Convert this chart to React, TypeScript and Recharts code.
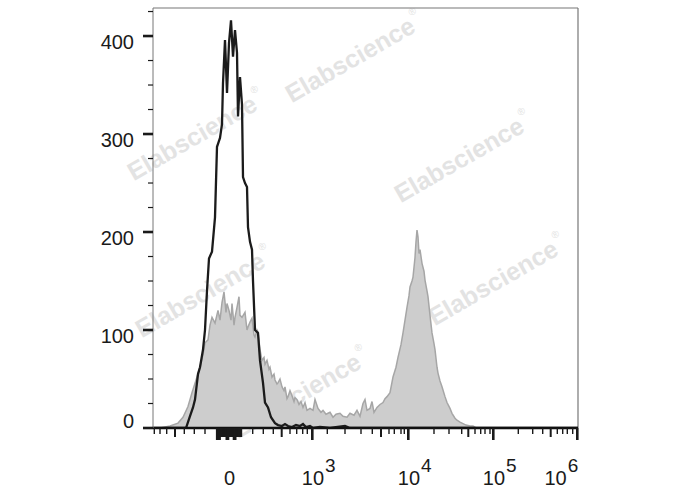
import { ComposedChart, Area, Line, XAxis, YAxis, ReferenceLine } from 'recharts';

const FONT = '"Liberation Sans", Arial, Helvetica, sans-serif';

// Display channel (0–425 across the plot width) vs. event count
// Unstained / isotype control (black outline)
const controlChannel = [
  0, 27, 33, 37, 40, 42, 45, 47, 50, 52, 54, 56, 59, 62, 64, 65, 67, 69, 70, 72, 74, 76, 78, 80,
  82, 84, 85, 87, 89, 90, 92, 94, 95, 97, 99, 100, 102, 105, 107, 110, 112, 115, 118, 122, 125,
  129, 132, 135, 139, 143, 147, 150, 153, 157, 160, 167, 177, 192, 197, 425,
];
const controlCount = [
  0, 0, 0, 12, 21, 29, 55, 62, 80, 100, 140, 173, 180, 215, 287, 290, 296, 310, 352, 396, 342, 393, 416, 379,
  406, 383, 318, 358, 330, 256, 250, 246, 205, 190, 182, 150, 100, 97, 69, 46, 26, 21, 11, 5, 3,
  2, 4, 2, 1, 3, 2, 4, 1, 2, 0, 1, 0, 2, 0, 0,
];

// Stained sample (grey filled)
const sampleChannel = [
  7, 17, 25, 30, 35, 39, 44, 47, 50, 52, 55, 57, 59, 62, 65, 67, 69, 71, 73, 74, 76, 78, 79, 81,
  82, 84, 86, 87, 89, 92, 94, 95, 97, 99, 101, 102, 104, 105, 107, 109, 111, 112, 114, 116, 117,
  119, 121, 122, 124, 125, 127, 129, 131, 132, 134, 135, 137, 139, 141, 142, 144, 146, 148, 150,
  152, 154, 157, 160, 162, 165, 168, 170, 173, 177, 180, 183, 187, 190, 194, 197, 201, 204, 207,
  210, 212, 214, 217, 219, 221, 224, 227, 230, 232, 234, 237, 240, 243, 245, 248, 250, 252, 254,
  256, 257, 259, 260, 262, 263, 264, 265, 266, 267, 269, 271, 272, 274, 275, 277, 279, 281, 282,
  284, 285, 287, 289, 292, 294, 297, 299, 302, 304, 307, 309, 313, 317, 320, 323, 425,
];
const sampleCount = [
  0, 2, 5, 11, 22, 36, 52, 62, 75, 87, 90, 105, 113, 107, 120, 110, 128, 139, 118, 127, 120, 110, 127, 105,
  113, 123, 134, 115, 113, 118, 100, 103, 108, 112, 95, 93, 100, 98, 80, 69, 72, 65, 69, 60, 62,
  52, 55, 49, 45, 46, 50, 42, 38, 42, 30, 32, 38, 33, 27, 31, 29, 24, 27, 21,
  26, 18, 20, 18, 29, 20, 16, 18, 14, 16, 11, 14, 15, 12, 11, 15, 13, 18, 12,
  25, 29, 18, 20, 27, 16, 21, 24, 26, 30, 32, 36, 52, 62, 72, 85, 97, 110, 123,
  135, 144, 150, 154, 174, 190, 202, 195, 178, 182, 168, 160, 151, 140, 134, 115, 97, 86, 80,
  62, 56, 48, 42, 32, 26, 20, 15, 10, 8, 6, 5, 3, 2, 2, 0, 0,
];

// y axis: majors every 100, minors every 25
const yTickValues = [0, 25, 50, 75, 100, 125, 150, 175, 200, 225, 250, 275, 300, 325, 350, 375, 400, 425];
const yLabels = [0, 100, 200, 300, 400];

// x axis (biexponential display): tick channel, kind, label
type XT = { v: number; kind: 'major' | 'mid' | 'minor'; label?: string; exp?: string };
const clusterTicks: XT[] = [];
for (let c = 64.2; c <= 89; c += 1.2) {
  const tall = Math.abs(c - 65.5) < 1.3 || Math.abs(c - 74.5) < 1.3 || Math.abs(c - 82) < 1.3;
  clusterTicks.push({ v: c, kind: tall ? 'major' : 'mid' });
}
const xTicks: XT[] = [
  { v: 1.3, kind: 'minor' }, { v: 7, kind: 'minor' }, { v: 13.7, kind: 'minor' }, { v: 22, kind: 'mid' },
  { v: 31.3, kind: 'minor' }, { v: 41.3, kind: 'minor' }, { v: 52, kind: 'minor' },
  ...clusterTicks,
  { v: 76, kind: 'mid', label: '0' },
  { v: 99.7, kind: 'minor' }, { v: 110.3, kind: 'minor' }, { v: 120.3, kind: 'minor' }, { v: 128.7, kind: 'mid' },
  { v: 137, kind: 'minor' }, { v: 143.7, kind: 'minor' }, { v: 149.7, kind: 'minor' }, { v: 154.3, kind: 'minor' },
  { v: 159.3, kind: 'major', label: '10', exp: '3' },
  { v: 174.3, kind: 'minor' }, { v: 192, kind: 'minor' }, { v: 208, kind: 'minor' }, { v: 219.3, kind: 'minor' },
  { v: 228, kind: 'mid' }, { v: 236, kind: 'minor' }, { v: 241.3, kind: 'minor' }, { v: 248, kind: 'minor' },
  { v: 251.3, kind: 'minor' },
  { v: 255.3, kind: 'major', label: '10', exp: '4' },
  { v: 281, kind: 'minor' }, { v: 296, kind: 'minor' }, { v: 308.7, kind: 'minor' }, { v: 315.3, kind: 'mid' },
  { v: 322, kind: 'minor' }, { v: 327.7, kind: 'minor' }, { v: 332, kind: 'minor' }, { v: 337, kind: 'minor' },
  { v: 340.3, kind: 'major', label: '10', exp: '5' },
  { v: 365.3, kind: 'minor' }, { v: 379.7, kind: 'minor' }, { v: 389.7, kind: 'minor' }, { v: 397.7, kind: 'mid' },
  { v: 404.3, kind: 'minor' }, { v: 409.7, kind: 'minor' }, { v: 414.3, kind: 'minor' }, { v: 419.7, kind: 'minor' },
  { v: 424.3, kind: 'major', label: '10', exp: '6' },
];

const controlData = controlChannel.map((ch, i) => ({ ch, count: controlCount[i] }));
const sampleData = sampleChannel.map((ch, i) => ({ ch, count: sampleCount[i] }));

const TICK_STYLE = {
  major: { len: 12, w: 2.6 },
  mid: { len: 9, w: 2 },
  minor: { len: 6, w: 1.4 },
};

function XTick(props: any) {
  const { x, y, payload } = props;
  const t =
    xTicks.find((d) => d.v === payload.value && d.label) || xTicks.find((d) => d.v === payload.value);
  if (!t) return null;
  const s = TICK_STYLE[t.kind];
  const isLast = t.exp === '6';
  return (
    <g>
      <line x1={x} x2={x} y1={y} y2={y + s.len} stroke="#1a1a1a" strokeWidth={s.w} />
      {t.label && !t.exp && (
        <text x={x + 0.5} y={y + 57} textAnchor="middle" fontSize={20} fill="#1a1a1a" fontFamily={FONT}>
          {t.label}
        </text>
      )}
      {t.exp && (
        <text
          x={isLast ? x + 1 : x - 10.5}
          y={y + 57}
          textAnchor={isLast ? 'end' : 'start'}
          fontSize={20}
          fill="#1a1a1a"
          fontFamily={FONT}
        >
          {t.label}
          <tspan dx={1} dy={-13} fontSize={19}>
            {t.exp}
          </tspan>
        </text>
      )}
    </g>
  );
}

function YTick(props: any) {
  const { x, y, payload } = props;
  const major = yLabels.includes(payload.value);
  return (
    <g>
      <line
        x1={x - (major ? 10 : 5)}
        x2={x}
        y1={y}
        y2={y}
        stroke="#1a1a1a"
        strokeWidth={major ? 2.6 : 1.2}
      />
      {major && (
        <text
          x={x - 19}
          y={payload.value === 0 ? y : y + 13}
          textAnchor="end"
          fontSize={20}
          fill="#1a1a1a"
          fontFamily={FONT}
        >
          {payload.value}
        </text>
      )}
    </g>
  );
}

// faint diagonal "Elabscience" watermarks
const marks = [
  [354, 57],
  [196, 135],
  [463, 157],
  [204, 292],
  [497, 280],
  [300, 393],
];

function Watermark() {
  return (
    <g pointerEvents="none">
      {marks.map(([cx, cy], i) => (
        <text
          key={i}
          x={cx}
          y={cy}
          transform={`rotate(-30 ${cx} ${cy})`}
          textAnchor="middle"
          dominantBaseline="central"
          fontSize={25}
          fontWeight="bold"
          fill="#e3e3e3"
          fontFamily={FONT}
        >
          Elabscience
          <tspan dx={2} dy={-11} fontSize={10} fontWeight="normal">
            ®
          </tspan>
        </text>
      ))}
    </g>
  );
}

export default function App() {
  return (
    <div style={{ width: 688, height: 490, background: '#fff' }}>
      <style>{'body{margin:0}'}</style>
      <ComposedChart width={688} height={490} margin={{ top: 8, right: 110, bottom: 0, left: 0 }}>
        <XAxis
          type="number"
          dataKey="ch"
          domain={[0, 425]}
          ticks={xTicks.map((t) => t.v)}
          interval={0}
          tick={<XTick />}
          tickLine={false}
          tickSize={0}
          tickMargin={0}
          height={62}
          axisLine={{ stroke: '#111', strokeWidth: 2.5 }}
          allowDataOverflow
        />
        <YAxis
          type="number"
          domain={[0, 428.6]}
          ticks={yTickValues}
          interval={0}
          tick={<YTick />}
          tickLine={false}
          tickSize={0}
          tickMargin={0}
          width={153}
          axisLine={{ stroke: '#777', strokeWidth: 1 }}
          allowDataOverflow
        />
        <ReferenceLine y={428.6} stroke="#777" strokeWidth={1.2} />
        <ReferenceLine x={425} stroke="#777" strokeWidth={1.2} />
        <Area
          data={sampleData}
          dataKey="count"
          type="linear"
          stroke="#a6a6a6"
          strokeWidth={1.5}
          fill="#cdcdcd"
          fillOpacity={1}
          dot={false}
          activeDot={false}
          isAnimationActive={false}
        />
        <Watermark />
        <Line
          data={controlData}
          dataKey="count"
          type="linear"
          stroke="#1b1b1b"
          strokeWidth={2.3}
          dot={false}
          activeDot={false}
          isAnimationActive={false}
        />
      </ComposedChart>
    </div>
  );
}
